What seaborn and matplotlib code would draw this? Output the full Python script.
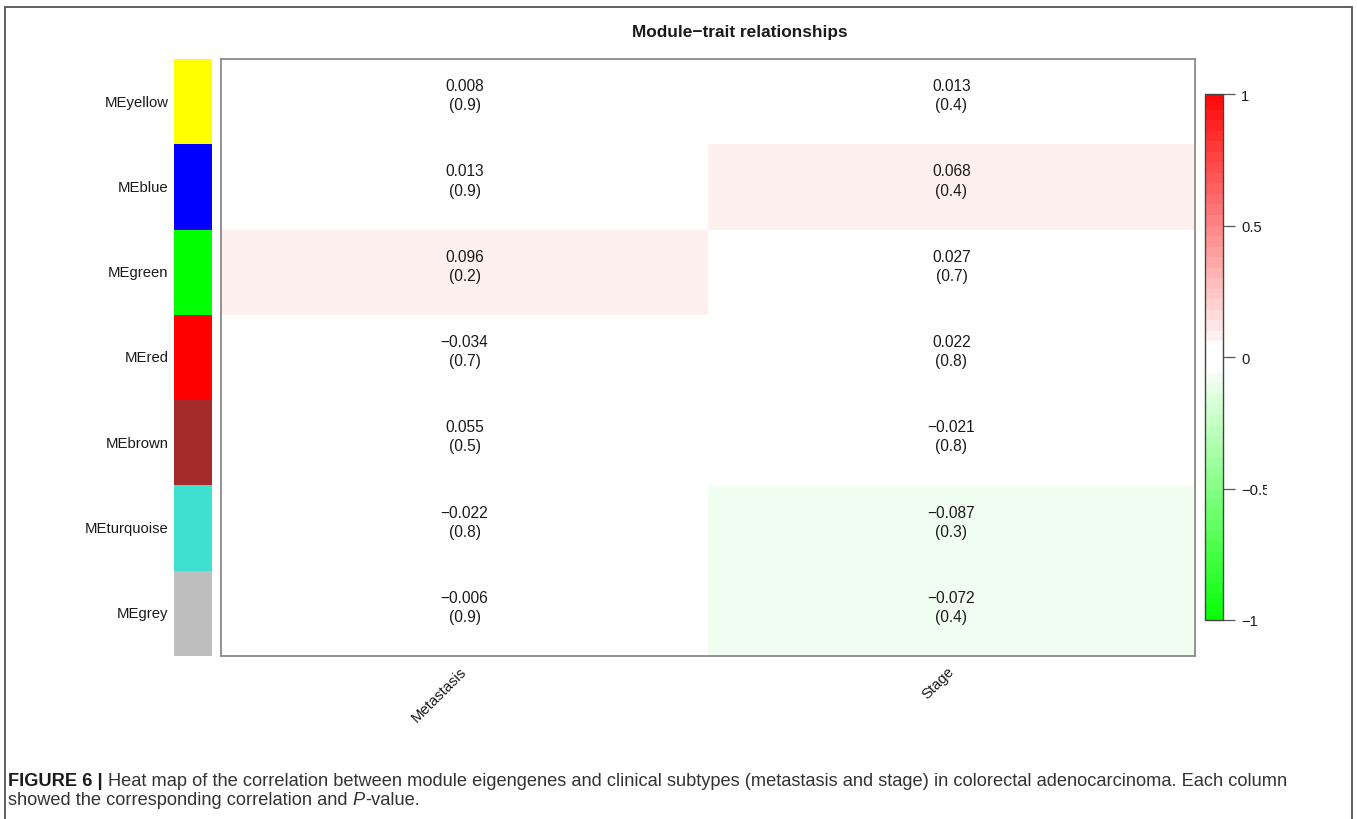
import numpy as np
import pandas as pd
import matplotlib
matplotlib.use("Agg")
import matplotlib.pyplot as plt
from matplotlib.colors import ListedColormap, BoundaryNorm
from matplotlib.patches import Rectangle
from matplotlib.transforms import Bbox, TransformedBbox
import seaborn as sns

# ---- data -------------------------------------------------------------
modules = ["MEyellow", "MEblue", "MEgreen", "MEred", "MEbrown", "MEturquoise", "MEgrey"]
module_colors = ["#FFFF00", "#0000FF", "#00FF00", "#FF0000", "#A52A2A", "#40E0D0", "#BEBEBE"]
traits = ["Metastasis", "Stage"]
cor_metastasis = [0.008, 0.013, 0.096, -0.034, 0.055, -0.022, -0.006]
cor_stage = [0.013, 0.068, 0.027, 0.022, -0.021, -0.087, -0.072]
p_metastasis = [0.9, 0.9, 0.2, 0.7, 0.5, 0.8, 0.9]
p_stage = [0.4, 0.4, 0.7, 0.8, 0.8, 0.3, 0.4]
cbar_ticks = [-1, -0.5, 0, 0.5, 1]
cbar_ticklabels = ["\u22121", "\u22120.5", "0", "0.5", "1"]

title = "Module\u2212trait relationships"
caption_line1 = [("FIGURE 6 |", {"fontweight": "bold", "color": "#1a1a1a"}),
                 ("Heat map of the correlation between module eigengenes and clinical subtypes "
                  "(metastasis and stage) in colorectal adenocarcinoma. Each column", {})]
caption_line2 = [("showed the corresponding correlation and", {}),
                 ("P", {"fontstyle": "italic"}),
                 ("-value.", {})]

# ---- style ------------------------------------------------------------
sns.set_theme(style="white")
plt.rcParams["font.family"] = ["Liberation Sans", "DejaVu Sans"]
TXT = "#1a1a1a"

W, H = 1357, 820
fig = plt.figure(figsize=(W / 100, H / 100), dpi=100)
fig.patch.set_facecolor("white")


def box(x0, y0, x1, y1):
    """Pixel box (top-left origin) -> figure-fraction rect."""
    return [x0 / W, 1 - y1 / H, (x1 - x0) / W, (y1 - y0) / H]


cor = pd.DataFrame({"Metastasis": cor_metastasis, "Stage": cor_stage}, index=modules)
pval = pd.DataFrame({"Metastasis": p_metastasis, "Stage": p_stage}, index=modules)


def fmt_r(v):
    return f"{v:.3f}".replace("-", "\u2212")


labels = np.array([[f"{fmt_r(cor.iloc[i, j])}\n({pval.iloc[i, j]:.1f})"
                    for j in range(cor.shape[1])] for i in range(cor.shape[0])])

# green-white-red palette in 0.04 steps with a white band around zero
pos_edges = np.r_[np.arange(0.06, 0.99, 0.04), 1.0]
edges = np.r_[-pos_edges[::-1], pos_edges]
colors = []
for a, b in zip(edges[:-1], edges[1:]):
    if b <= -0.06 + 1e-9:
        t = abs(b)
        colors.append((1 - t, 1.0, 1 - t))
    elif a >= 0.06 - 1e-9:
        t = a
        colors.append((1.0, 1 - t, 1 - t))
    else:
        colors.append((1.0, 1.0, 1.0))
cmap = ListedColormap(colors)
norm = BoundaryNorm(edges, cmap.N)

# ---- axes -------------------------------------------------------------
hm_ax = fig.add_axes(box(221, 60, 1195, 657))
strip_ax = fig.add_axes(box(174, 60, 212.5, 657))
cb_ax = fig.add_axes(box(1205, 95, 1223, 621))

sns.heatmap(cor, ax=hm_ax, cmap=cmap, norm=norm, annot=labels, fmt="",
            annot_kws={"fontsize": 11.2, "color": TXT},
            cbar=True, cbar_ax=cb_ax,
            cbar_kws={"spacing": "proportional", "ticks": cbar_ticks},
            xticklabels=traits, yticklabels=False)

# lift the two-line labels slightly within each cell
for t in hm_ax.texts:
    x, y = t.get_position()
    t.set_position((x, y - 0.075))
    t.set_linespacing(1.35)

for s in hm_ax.spines.values():
    s.set_visible(True)
    s.set_edgecolor("#8a8a8a")
    s.set_linewidth(1.3)
hm_ax.set_xlabel("")
hm_ax.set_ylabel("")
hm_ax.set_xticklabels(traits, rotation=45, ha="right", va="center",
                      rotation_mode="anchor", fontsize=10.7, color=TXT)
hm_ax.tick_params(axis="x", length=0, pad=9, bottom=True)

# module colour strip with row labels
sns.heatmap(np.arange(len(modules)).reshape(-1, 1), ax=strip_ax,
            cmap=ListedColormap(module_colors), cbar=False,
            xticklabels=False, yticklabels=modules)
strip_ax.set_yticklabels(modules, rotation=0, fontsize=10.7, color=TXT)
strip_ax.tick_params(axis="y", length=0, pad=4, left=True)

# colour bar
cbar = hm_ax.collections[0].colorbar
cbar.set_ticks(cbar_ticks, labels=cbar_ticklabels)
cbar.minorticks_off()
cbar.outline.set_edgecolor("#444444")
cbar.outline.set_linewidth(1.0)
cb_ax.tick_params(axis="y", which="both", right=True, left=False,
                  labelright=True, labelleft=False)
cb_ax.tick_params(axis="y", which="major", direction="out", length=8.6, width=0.9,
                  color="#555555", pad=4.5, labelsize=10.6, labelcolor=TXT)
cb_ax.tick_params(axis="y", which="minor", length=0)
clip = TransformedBbox(Bbox([[0, 0], [1267 / W, 1]]), fig.transFigure)
for lab in cb_ax.get_yticklabels():
    lab.set_clip_box(clip)
    lab.set_clip_on(True)

# title
fig.text(740 / W, 1 - 33 / H, title, ha="center", va="center",
         fontsize=12.4, fontweight="bold", color=TXT)

# outer frame (open at the bottom edge of the canvas)
fig.patches.append(Rectangle((5 / W, -0.05), (1352 - 5) / W, 1 - 8 / H + 0.05,
                             transform=fig.transFigure, fill=False,
                             edgecolor="#555555", linewidth=1.3))

# ---- caption ----------------------------------------------------------
renderer = fig.canvas.get_renderer()


def width_px(s, size, **kw):
    t = fig.text(0, 0, s, fontsize=size, **kw)
    w = t.get_window_extent(renderer).width
    t.remove()
    return w


def lay_runs(runs, x_px, base_px, size, draw=True):
    space = width_px("a a", size) - width_px("aa", size)
    x = x_px
    for k, (s, kw) in enumerate(runs):
        if k > 0 and not s.startswith("-"):
            x += space
        opts = {"color": "#333333"}
        opts.update(kw)
        t = fig.text(x / W, 1 - base_px / H, s, fontsize=size, ha="left",
                     va="baseline", **opts)
        x += t.get_window_extent(renderer).width
        if not draw:
            t.remove()
    return x - x_px


size0 = 12.0
w0 = lay_runs(caption_line1, 8, 787, size0, draw=False)
cap_size = size0 * (1283 / w0)
lay_runs(caption_line1, 8, 786, cap_size)
lay_runs(caption_line2, 8, 805, cap_size)

fig.savefig("out.png", dpi=100, facecolor="white")
